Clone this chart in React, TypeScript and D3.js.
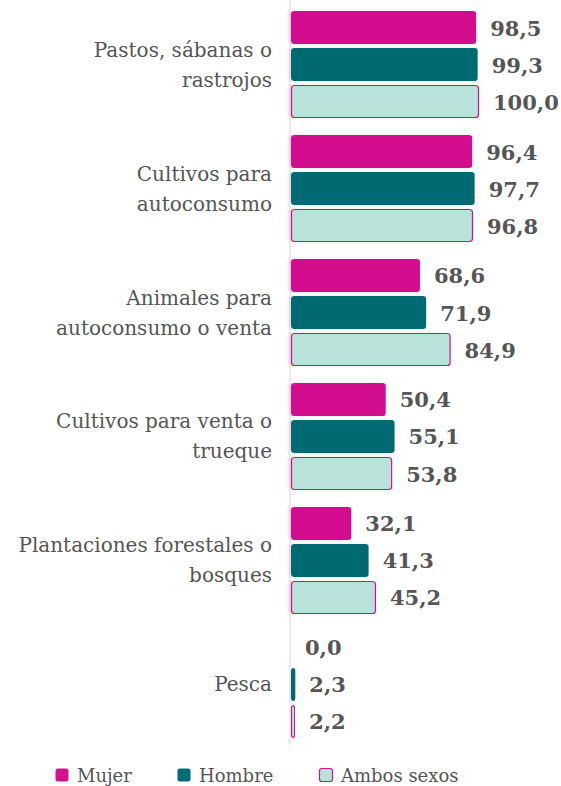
import React from "react";
import * as d3 from "d3";

const categories = [
  ["Pastos, sábanas o", "rastrojos"],
  ["Cultivos para", "autoconsumo"],
  ["Animales para", "autoconsumo o venta"],
  ["Cultivos para venta o", "trueque"],
  ["Plantaciones forestales o", "bosques"],
  ["Pesca"],
];
const series = ["Mujer", "Hombre", "Ambos sexos"];
const mujer = [98.5, 96.4, 68.6, 50.4, 32.1, 0.0];
const hombre = [99.3, 97.7, 71.9, 55.1, 41.3, 2.3];
const ambos = [100.0, 96.8, 84.9, 53.8, 45.2, 2.2];

const values = [mujer, hombre, ambos];
const fills = ["#d3118e", "#006b73", "#b9e2da"];
const strokes = ["none", "none", "#d3118e"];

const W = 561;
const H = 786;
const fmt = (v: number) => v.toFixed(1).replace(".", ",");
const font = "DejaVu Serif";

export default function App() {
  const keys = categories.map((c) => c.join(" "));
  const x = d3.scaleLinear().domain([0, 100]).range([291, 479]);
  const y0 = d3.scaleBand().domain(keys).range([11, 738]).paddingInner(0.137);
  const y1 = d3
    .scaleBand()
    .domain(series)
    .range([0, y0.bandwidth()])
    .paddingInner(0.108);

  return (
    <svg width={W} height={H} style={{ position: "absolute", left: 0, top: 0 }}>
      <defs>
        <filter id="sh" x="-10%" y="-30%" width="120%" height="160%">
          <feDropShadow dx="-3" dy="0" stdDeviation="1.5" floodColor="#f3c6df" floodOpacity="0.6" />
        </filter>
      </defs>
      <rect width={W} height={H} fill="#fff" />
      <line x1={290} x2={290} y1={0} y2={745} stroke="#d9d9d9" strokeWidth={1} />
      {keys.map((k, gi) => {
        const gy = y0(k)!;
        const lines = categories[gi];
        const cy = gy + y0.bandwidth() / 2;
        return (
          <g key={k}>
            <text
              x={272}
              textAnchor="end"
              fontFamily={font}
              fontSize={20}
              fill="#555"
            >
              {lines.map((l, li) => (
                <tspan key={li} x={272} y={cy + (li - (lines.length - 1) / 2) * 30 + 7}>
                  {l}
                </tspan>
              ))}
            </text>
            {series.map((s, si) => {
              const v = values[si][gi];
              const by = gy + y1(s)!;
              const w = x(v) - x(0);
              return (
                <g key={s}>
                  {v > 0 && (
                    <rect
                      x={x(0) + (strokes[si] !== "none" ? 0.5 : 0)}
                      y={by + (strokes[si] !== "none" ? 0.5 : 0)}
                      width={Math.max(w - (strokes[si] !== "none" ? 1 : 0), 2)}
                      height={y1.bandwidth() - (strokes[si] !== "none" ? 1 : 0)}
                      rx={3}
                      fill={fills[si]}
                      stroke={strokes[si]}
                      strokeWidth={1.2}
                      filter="url(#sh)"
                    />
                  )}
                  <text
                    x={x(v) + 14}
                    y={by + y1.bandwidth() / 2 + 8}
                    fontFamily={font}
                    fontWeight="bold"
                    fontSize={21}
                    fill="#555"
                  >
                    {fmt(v)}
                  </text>
                </g>
              );
            })}
          </g>
        );
      })}
      {series.map((s, si) => {
        const lx = [55, 177, 319][si];
        return (
          <g key={s}>
            <rect
              x={lx + 0.5}
              y={768.5}
              width={13}
              height={13}
              rx={2.5}
              fill={fills[si]}
              stroke={strokes[si]}
              strokeWidth={1.2}
            />
            <text x={lx + 22} y={782} fontFamily={font} fontSize={18} fill="#555">
              {s}
            </text>
          </g>
        );
      })}
    </svg>
  );
}
